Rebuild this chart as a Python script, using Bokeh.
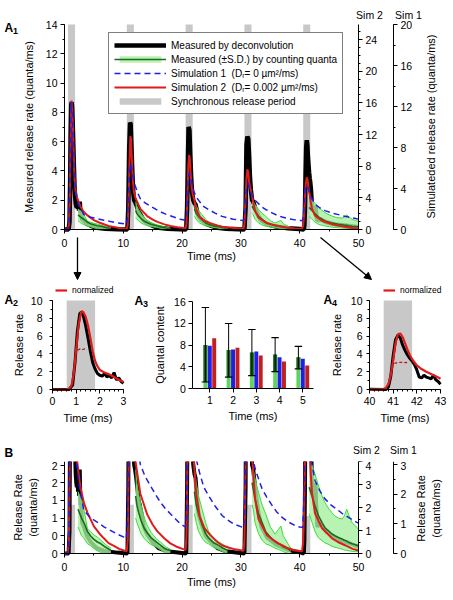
import math
from bokeh.plotting import figure
from bokeh.models import (Range1d, LinearAxis, SingleIntervalTicker, FixedTicker, Label,
                          Legend, LegendItem, Arrow, NormalHead, CustomJSTickFormatter)
from bokeh.layouts import column, row
from bokeh.embed import file_html
from bokeh.resources import INLINE

FONT = "Liberation Sans"

# ---------------- data ----------------
sync_start = [0.6, 10.6, 20.6, 30.6, 40.6]
sync_end = [1.8, 11.8, 21.8, 31.8, 41.8]
grey_b_top = [1.1, 1.1, 1.1, 1.1, 0.85]

# measured by deconvolution (quanta/ms)
black_t = [0, 0.7, 0.85, 0.95, 1.05, 1.15, 1.22, 1.3, 1.4, 1.5, 1.6, 1.7, 1.8, 1.9, 2.0, 2.1, 2.2, 2.3, 2.4, 2.5,
           2.6, 2.7, 2.8, 2.9, 3.0, 3.3, 3.8, 4.5, 5.5, 7.0, 9.0, 10.7,
           10.85, 11.0, 11.15, 11.25, 11.4, 11.55, 11.7, 11.85, 12.0, 12.2, 12.4, 12.6, 12.8, 13.1, 13.5, 14.0,
           15.0, 16.0, 17.5, 20.7,
           20.85, 21.0, 21.1, 21.25, 21.4, 21.55, 21.7, 21.9, 22.1, 22.3, 22.5, 22.8, 23.2, 24.0, 25.0, 26.0,
           27.5, 30.6,
           30.8, 30.95, 31.1, 31.25, 31.4, 31.55, 31.7, 31.9, 32.1, 32.4, 32.7, 33.0, 33.5, 34.5, 36.0, 38.0,
           40.0, 40.7,
           40.8, 40.9, 41.0, 41.1, 41.2, 41.3, 41.4, 41.5, 41.6, 41.7, 41.8, 41.9, 42.0, 42.1, 42.2, 42.3, 42.4,
           42.5, 42.6, 42.7, 42.8, 42.9, 43.0, 43.5, 44.5, 46.0, 48.0, 50.0]
black_v = [0, 0, 0.5, 3.0, 6.5, 8.5, 8.7, 8.3, 7.2, 5.8, 4.3, 3.0, 2.3, 1.8, 1.6, 1.5, 1.8, 1.4, 1.6, 1.3,
           1.9, 1.1, 1.3, 0.9, 0.7, 0.6, 0.4, 0.25, 0.12, 0.05, 0.02, 0,
           1.5, 5.5, 7.3, 7.2, 5.5, 3.8, 2.5, 2.0, 1.9, 1.7, 1.45, 1.2, 1.1, 0.9, 0.6, 0.45,
           0.25, 0.12, 0.05, 0,
           1.5, 5.0, 7.0, 6.8, 5.0, 3.5, 2.5, 2.0, 1.8, 1.7, 1.3, 0.9, 0.7, 0.4, 0.25, 0.12,
           0.05, 0,
           1.5, 5.8, 6.35, 6.2, 5.0, 3.5, 2.7, 2.0, 1.9, 1.5, 1.2, 0.9, 0.6, 0.35, 0.2, 0.08,
           0.03, 0,
           0.3, 1.5, 3.8, 5.6, 6.1, 5.8, 5.0, 4.4, 3.9, 3.5, 3.2, 2.8, 2.2, 1.4, 1.3, 1.6, 1.4,
           1.3, 1.2, 1.6, 1.1, 0.9, 0.6, 0.7, 0.5, 0.35, 0.25, 0.15]

# measured by counting quanta: mean and +-S.D. after each stimulus
green_t = [[2.3, 2.6, 2.9, 3.3, 3.9, 4.4, 5.0, 5.6, 6.2, 7.0, 7.9],
           [12.1, 12.3, 12.6, 13.0, 13.6, 14.0, 14.7, 15.7, 16.4, 17.2, 18.0],
           [22.1, 22.4, 22.8, 23.4, 24.0, 24.5, 25.3, 26.0, 27.0, 27.7],
           [31.9, 32.1, 32.4, 33.0, 33.6, 34.2, 35.0, 35.8, 36.4, 36.8, 37.2, 38.1, 38.5],
           [41.6, 42.1, 42.6, 43.2, 43.8, 44.3, 45.0, 45.5, 46.0, 46.6, 47.2, 47.6, 48.0, 48.4, 48.9, 49.5, 50.0]]
green_mean = [[1.0, 0.9, 0.8, 0.7, 0.5, 0.4, 0.32, 0.26, 0.22, 0.14, 0.07],
              [1.3, 1.1, 0.93, 0.75, 0.56, 0.48, 0.36, 0.25, 0.18, 0.1, 0.07],
              [1.4, 1.1, 0.9, 0.65, 0.45, 0.35, 0.25, 0.2, 0.12, 0.07],
              [1.6, 1.45, 1.23, 0.9, 0.7, 0.5, 0.37, 0.27, 0.22, 0.2, 0.15, 0.1, 0.05],
              [1.5, 1.3, 1.08, 0.85, 0.7, 0.58, 0.5, 0.44, 0.4, 0.36, 0.33, 0.3, 0.28, 0.25, 0.22, 0.2, 0.17]]
green_upper = [[1.4, 1.3, 1.23, 1.0, 0.56, 0.5, 0.42, 0.37, 0.3, 0.2, 0.12],
               [1.9, 1.6, 1.35, 1.1, 0.8, 0.65, 0.48, 0.32, 0.25, 0.15, 0.1],
               [1.9, 1.6, 1.3, 1.0, 0.7, 0.5, 0.36, 0.28, 0.2, 0.12],
               [2.1, 1.9, 1.7, 1.38, 1.1, 0.9, 0.6, 0.44, 0.55, 0.62, 0.4, 0.2, 0.12],
               [2.1, 2.0, 1.8, 1.53, 1.3, 1.15, 1.0, 0.92, 0.85, 0.8, 0.78, 0.85, 1.0, 0.85, 0.7, 0.62, 0.55]]
green_lower = [[0.6, 0.5, 0.4, 0.35, 0.22, 0.18, 0.11, 0.06, 0.02, 0.0, 0.0],
               [0.8, 0.7, 0.6, 0.45, 0.33, 0.28, 0.2, 0.14, 0.08, 0.0, 0.0],
               [0.9, 0.7, 0.5, 0.35, 0.25, 0.22, 0.14, 0.1, 0.04, 0.0],
               [1.1, 1.0, 0.7, 0.45, 0.3, 0.22, 0.18, 0.12, 0.09, 0.07, 0.04, 0.0, 0.0],
               [0.9, 0.7, 0.5, 0.35, 0.29, 0.24, 0.2, 0.16, 0.14, 0.12, 0.1, 0.08, 0.07, 0.06, 0.05, 0.04, 0.04]]

# Simulation 2 (Sim 2 axis units)
red_t = [0, 0.6, 0.75, 0.9, 1.0, 1.1, 1.2, 1.3, 1.45, 1.6, 1.75, 1.9, 2.15, 2.7, 3.3, 3.9, 5.0, 6.0, 6.7, 7.5,
         8.4, 9.3, 10.1, 10.6,
         10.75, 10.9, 11.05, 11.2, 11.3, 11.45, 11.6, 11.8, 12.07, 12.9, 14.06, 15.0, 15.8, 17.0, 18.0, 19.2,
         20.3, 20.6,
         20.75, 20.9, 21.05, 21.2, 21.3, 21.45, 21.6, 21.8, 22.0, 22.4, 23.0, 23.8, 24.8, 26.0, 26.8, 28.0,
         29.0, 30.45,
         30.6, 30.75, 30.95, 31.1, 31.25, 31.4, 31.6, 31.8, 32.1, 32.4, 33.0, 34.4, 35.4, 36.4, 37.8, 39.2, 40.4,
         40.6, 40.8, 41.0, 41.2, 41.35, 41.5, 41.7, 41.9, 42.1, 42.6, 43.8, 45.5, 46.5, 47.7, 49.0, 50.0]
red_v = [0, 0, 0.6, 4, 9, 14, 16.3, 15.6, 12.5, 8.5, 6, 4.8, 4.0, 2.9, 2.2, 1.78, 1.18, 0.85, 0.66, 0.45,
         0.33, 0.2, 0.13, 0.1,
         0.6, 3.5, 8.5, 11.8, 11.5, 9, 6.5, 4.8, 4.0, 2.6, 1.7, 1.25, 0.96, 0.65, 0.44, 0.28,
         0.18, 0.16,
         0.8, 4, 8, 9.4, 9.1, 7.2, 5.5, 4.4, 4.0, 2.6, 1.6, 1.1, 0.8, 0.5, 0.36, 0.25,
         0.18, 0.12,
         0.6, 3, 6.5, 7.6, 7.2, 6, 5.2, 4.6, 3.5, 2.4, 1.5, 0.81, 0.6, 0.44, 0.25, 0.13, 0.1,
         0.5, 2.5, 5.5, 6.6, 6.3, 5.3, 4.4, 3.4, 2.6, 1.75, 1.1, 0.66, 0.5, 0.36, 0.2, 0.13]

# Simulation 1 (Sim 1 axis units)
blue_t = [0, 0.6, 0.75, 0.9, 1.05, 1.2, 1.3, 1.45, 1.6, 1.8, 2.0, 2.4, 3.3, 4.4, 5.56, 6.7, 7.8, 9.0, 10.1, 10.5,
          10.7, 10.9, 11.05, 11.2, 11.35, 11.6, 12.0, 12.5, 12.9, 13.7, 14.6, 15.5, 16.3, 17.2, 18.0, 19.0,
          19.7, 20.6,
          20.75, 20.95, 21.1, 21.2, 21.4, 21.7, 22.0, 22.5, 23.0, 23.7, 24.5, 25.6, 26.8, 27.7, 28.7, 30.2, 30.5,
          30.65, 30.85, 31.0, 31.15, 31.35, 31.6, 31.9, 32.5, 33.6, 34.4, 35.3, 36.1, 37.0, 38.1, 39.2, 40.0, 40.5,
          40.65, 40.85, 41.0, 41.15, 41.35, 41.6, 41.9, 42.6, 43.4, 44.3, 45.4, 46.6, 47.4, 48.3, 49.0, 49.7, 50.0]
blue_v = [0, 0, 0.5, 4, 10, 12.4, 11.8, 9, 6.2, 4.3, 3.3, 2.4, 1.45, 1.2, 1.06, 0.9, 0.78, 0.65, 0.55, 0.5,
          1.0, 3.5, 5.5, 6.4, 6.2, 5.3, 4.3, 3.5, 3.0, 2.6, 2.29, 1.98, 1.73, 1.5, 1.34, 1.14,
          1.0, 0.89,
          1.4, 3.8, 5.2, 5.5, 5.2, 4.4, 3.7, 3.1, 2.7, 2.23, 1.95, 1.6, 1.28, 1.14, 1.0, 0.89, 0.88,
          1.5, 3.6, 4.3, 4.5, 4.3, 3.8, 3.3, 2.8, 2.18, 1.9, 1.62, 1.4, 1.22, 1.06, 0.94, 0.89, 0.88,
          1.4, 3.4, 4.1, 4.3, 4.1, 3.7, 3.2, 2.46, 2.12, 1.84, 1.62, 1.45, 1.32, 1.22, 1.13, 1.05, 1.03]

# A2 / A4 : normalized simulation 2 and raw simulation 2 (dashed)
a2_norm_t = [0, 0.6, 0.7, 0.8, 0.9, 1.0, 1.1, 1.2, 1.25, 1.3, 1.4, 1.5, 1.6, 1.7, 1.8, 1.9, 2.0, 2.2, 2.4, 2.6, 2.8, 3.0]
a2_norm_v = [0, 0, 0.1, 0.4, 1.8, 4.5, 7.2, 8.6, 8.8, 8.7, 8.2, 7.2, 5.8, 4.3, 3.2, 2.6, 2.2, 1.9, 1.7, 1.4, 1.1, 0.85]
a2_raw_t = [1.07, 1.15, 1.22, 1.3, 1.37, 1.45]
a2_raw_v = [4.4, 4.55, 4.45, 4.5, 4.6, 4.5]
a4_norm_t = [40, 40.6, 40.7, 40.8, 40.9, 41.0, 41.1, 41.2, 41.3, 41.4, 41.5, 41.6, 41.7, 41.8, 42.0, 42.2, 42.4, 42.6,
             42.8, 43.0]
a4_norm_v = [0, 0.05, 0.2, 0.6, 1.6, 3.3, 5.2, 6.2, 6.3, 5.9, 5.2, 4.5, 3.9, 3.4, 2.7, 2.3, 2.0, 1.75, 1.5, 1.2]
a4_raw_t = [41.05, 41.15, 41.25, 41.35, 41.45, 41.55, 41.65]
a4_raw_v = [2.95, 3.0, 3.05, 3.05, 3.0, 3.05, 3.0]

# A3 : quantal content per stimulus
stim = [1, 2, 3, 4, 5]
qc_mean = [8.0, 7.1, 6.6, 6.25, 5.75]
qc_low = [1.2, 2.1, 2.35, 3.1, 3.6]
qc_high = [14.9, 11.95, 10.85, 9.35, 7.75]
qc_sim1 = [7.85, 7.15, 6.8, 5.75, 5.45]
qc_sim2 = [9.25, 7.5, 6.05, 4.95, 4.25]

# axis extents
A1_YMAX, SIM2_A1_MAX, SIM1_A1_MAX = 14, 25.9, 20
B_YMAX, SIM2_B_MAX, SIM1_B_MAX = 2.08, 4.0, 3.1

# ---------------- styles / helpers ----------------
BLACK = "#000000"
GREEN_FILL = "#a6f0a0"
GREEN_EDGE = "#3ddc3a"
GREEN_DARK = "#1c6b1c"
BLUE = "#1f1fe6"
RED = "#e11b1b"
GREY = "#c8c8c8"


class Geo:
    """page-pixel geometry of a figure whose frame fills the whole figure"""

    def __init__(self, left, top, right, bottom, xa_px, xa_val, xppu, ya_px, ya_val, yppu):
        self.l, self.t, self.r, self.b = left, top, right, bottom
        self.xa_px, self.xa_val, self.xppu = xa_px, xa_val, xppu
        self.ya_px, self.ya_val, self.yppu = ya_px, ya_val, yppu

    def x(self, px):
        return self.xa_val + (px - self.xa_px) / self.xppu

    def y(self, py, ppu=None):
        return self.ya_val + (self.ya_px - py) / (ppu or self.yppu)

    def xrange(self):
        return Range1d(self.x(self.l), self.x(self.r))

    def yrange(self, ppu=None):
        return Range1d(self.y(self.b, ppu), self.y(self.t, ppu))


def new_fig(g):
    p = figure(frame_width=g.r - g.l, frame_height=g.b - g.t, x_range=g.xrange(), y_range=g.yrange(),
               output_backend="svg", toolbar_location=None, min_border=0)
    p.xgrid.visible = False
    p.ygrid.visible = False
    p.outline_line_color = None
    p.background_fill_color = "white"
    p.border_fill_color = "white"
    return p


def style_axis(ax, label=None, tick_fs="10.5px", lab_fs="11px", lab_standoff=6, tick_standoff=3, tick_out=4):
    ax.axis_line_color = BLACK
    ax.axis_line_width = 1
    ax.major_tick_line_color = BLACK
    ax.minor_tick_line_color = BLACK
    ax.major_tick_out = tick_out
    ax.major_tick_in = 0
    ax.minor_tick_out = 2
    ax.minor_tick_in = 0
    ax.major_label_text_font = FONT
    ax.major_label_text_font_size = tick_fs
    ax.major_label_text_color = BLACK
    ax.major_label_standoff = tick_standoff
    ax.axis_label_text_font = FONT
    ax.axis_label_text_font_size = lab_fs
    ax.axis_label_text_font_style = "normal"
    ax.axis_label_text_color = BLACK
    ax.axis_label_standoff = lab_standoff
    if label is not None:
        ax.axis_label = label


def text(p, g, px, py, s, size="10.5px", bold=False, align="left", angle=0.0):
    p.add_layout(Label(x=g.x(px), y=g.y(py), text=s, text_font=FONT, text_font_size=size,
                       text_font_style="bold" if bold else "normal", text_color=BLACK,
                       text_align=align, text_baseline="middle", angle=angle))


def panel_label(p, g, px, py, main, sub):
    text(p, g, px, py, main, size="12px", bold=True)
    if sub:
        text(p, g, px + 8.5, py + 3, sub, size="9px", bold=True)


def draw_traces(p, grey_tops, black_w):
    r_grey = p.quad(left=sync_start, right=sync_end, bottom=0, top=grey_tops,
                    fill_color=GREY, line_color=None)
    r_black = p.line(black_t, black_v, line_color=BLACK, line_width=black_w)
    bands, means = [], []
    for k in range(len(green_t)):
        bands.append(p.varea(x=green_t[k], y1=green_lower[k], y2=green_upper[k],
                             fill_color=GREEN_FILL, fill_alpha=0.8))
        p.line(green_t[k], green_upper[k], line_color=GREEN_EDGE, line_width=1)
        p.line(green_t[k], green_lower[k], line_color=GREEN_EDGE, line_width=1)
        means.append(p.line(green_t[k], green_mean[k], line_color=GREEN_DARK, line_width=1.6))
    r_red = p.line(red_t, red_v, line_color=RED, line_width=2, y_range_name="sim2")
    r_blue = p.line(blue_t, blue_v, line_color=BLUE, line_width=1.5, line_dash="6 4",
                    y_range_name="sim1")
    return r_grey, r_black, bands[0], means[0], r_red, r_blue


# ---------------- A1 ----------------
gA1 = Geo(0, 0, 450, 283, 64, 0, 294 / 50, 229, 0, 205 / A1_YMAX)
p1 = new_fig(gA1)
p1.extra_y_ranges = {"sim2": gA1.yrange(205 / SIM2_A1_MAX), "sim1": gA1.yrange(205 / SIM1_A1_MAX)}
xa = p1.xaxis[0]
xa.ticker = SingleIntervalTicker(interval=10, num_minor_ticks=2)
xa.fixed_location = 0
xa.bounds = (0, 50)
style_axis(xa, "Time (ms)", lab_standoff=0, tick_standoff=5)
ya = p1.yaxis[0]
ya.ticker = SingleIntervalTicker(interval=2, num_minor_ticks=2)
ya.fixed_location = 0
ya.bounds = (0, A1_YMAX)
style_axis(ya, "Measured release rate (quanta/ms)", lab_standoff=8)
ax_s2 = LinearAxis(y_range_name="sim2", ticker=SingleIntervalTicker(interval=4, num_minor_ticks=4),
                   fixed_location=50, bounds=(0, SIM2_A1_MAX))
style_axis(ax_s2)
p1.add_layout(ax_s2, "right")
ax_s1 = LinearAxis(y_range_name="sim1", ticker=SingleIntervalTicker(interval=4, num_minor_ticks=2),
                   fixed_location=gA1.x(393), bounds=(0, SIM1_A1_MAX))
style_axis(ax_s1)
p1.add_layout(ax_s1, "right")

rg, rb, rgb, rgm, rr, rbl = draw_traces(p1, [A1_YMAX] * len(sync_start), 4.5)

leg = Legend(items=[
    LegendItem(label="Measured by deconvolution", renderers=[rb]),
    LegendItem(label="Measured (\u00b1S.D.) by counting quanta", renderers=[rgb, rgm]),
    LegendItem(label="Simulation 1  (D\u1d63= 0 \u00b5m\u00b2/ms)", renderers=[rbl]),
    LegendItem(label="Simulation 2  (D\u1d63= 0.002 \u00b5m\u00b2/ms)", renderers=[rr]),
    LegendItem(label="Synchronous release period", renderers=[rg]),
], location=(108, 283 - 114))
leg.label_text_font = FONT
leg.label_text_font_size = "10px"
leg.label_text_color = BLACK
leg.glyph_width = 52
leg.glyph_height = 8
leg.label_height = 14
leg.label_standoff = 5
leg.spacing = 0
leg.padding = 5
leg.margin = 0
leg.border_line_color = BLACK
leg.border_line_width = 1
leg.background_fill_alpha = 1
p1.add_layout(leg)

panel_label(p1, gA1, 4, 27, "A", "1")
text(p1, gA1, 369, 14, "Sim 2", align="center")
text(p1, gA1, 408, 14, "Sim 1", align="center")
text(p1, gA1, 430, 126, "Simulateded release rate (quanta/ms)", size="11px", align="center",
     angle=math.pi / 2)

arrow_px = [((77, 237), (77, 279)), ((320, 237), (371, 279))]
for (sx, sy), (ex, ey) in arrow_px:
    p1.add_layout(Arrow(end=NormalHead(size=7, fill_color=BLACK, line_color=BLACK),
                        x_start=gA1.x(sx), y_start=gA1.y(sy), x_end=gA1.x(ex), y_end=gA1.y(ey),
                        line_color=BLACK, line_width=1.3))


# ---------------- A2 / A4 ----------------
def zoom_panel(g, t0, t1, norm_t, norm_v, raw_t, raw_v, sync_i, lab_px, lab_sub, leg_px,
               ylab_standoff, ytick_standoff):
    p = new_fig(g)
    xa = p.xaxis[0]
    xa.ticker = SingleIntervalTicker(interval=1, num_minor_ticks=5)
    xa.fixed_location = 0
    xa.bounds = (t0, t1)
    style_axis(xa, "Time (ms)", lab_standoff=4, tick_standoff=3)
    ya = p.yaxis[0]
    ya.ticker = SingleIntervalTicker(interval=2, num_minor_ticks=2)
    ya.fixed_location = t0
    ya.bounds = (0, 10)
    style_axis(ya, "Release rate", lab_standoff=ylab_standoff, tick_standoff=ytick_standoff, tick_out=3)
    p.quad(left=[sync_start[sync_i]], right=[sync_end[sync_i]], bottom=0, top=10,
           fill_color=GREY, line_color=None)
    idx = [i for i, t in enumerate(black_t) if t0 <= t <= t1]
    p.line([black_t[i] for i in idx], [black_v[i] for i in idx], line_color=BLACK, line_width=3)
    rn = p.line(norm_t, norm_v, line_color=RED, line_width=2.2)
    p.line(raw_t, raw_v, line_color="#b02020", line_width=1.3, line_dash="3 2")
    lg = Legend(items=[LegendItem(label="normalized", renderers=[rn])],
                location=(leg_px - g.l, g.b - 295))
    lg.label_text_font = FONT
    lg.label_text_font_size = "8.5px"
    lg.label_text_color = BLACK
    lg.glyph_width = 12
    lg.glyph_height = 6
    lg.label_height = 10
    lg.label_standoff = 5
    lg.padding = 0
    lg.margin = 0
    lg.border_line_color = None
    lg.background_fill_alpha = 0
    p.add_layout(lg)
    panel_label(p, g, lab_px, 299, "A", lab_sub)
    return p


gA2 = Geo(0, 283, 132, 461, 52, 0, 71 / 3, 389, 0, 8.9)
pA2 = zoom_panel(gA2, 0, 3, a2_norm_t, a2_norm_v, a2_raw_t, a2_raw_v, 0, 4, "2", 55, 3, 7)
panel_label(pA2, gA2, 4, 452, "B", "")

gA4 = Geo(322, 283, 450, 461, 369, 40, 71 / 3, 389, 0, 8.9)
pA4 = zoom_panel(gA4, 40, 43, a4_norm_t, a4_norm_v, a4_raw_t, a4_raw_v, 4, 323, "4", 383, 5, 4)
text(pA4, gA4, 366, 449, "Sim 2", align="center")
text(pA4, gA4, 403, 449, "Sim 1", align="center")

# ---------------- A3 ----------------
gA3 = Geo(132, 283, 322, 461, 209.3, 1, 23.25, 388, 0, 87 / 16)
pA3 = new_fig(gA3)
xa = pA3.xaxis[0]
xa.ticker = FixedTicker(ticks=stim, minor_ticks=[])
xa.fixed_location = 0
xa.bounds = (gA3.x(192.3), gA3.x(313))
style_axis(xa, "Time (ms)", lab_standoff=3, tick_standoff=3)
ya = pA3.yaxis[0]
ya.ticker = SingleIntervalTicker(interval=4, num_minor_ticks=0)
ya.fixed_location = gA3.x(192.3)
ya.bounds = (0, 16)
style_axis(ya, "Quantal content", lab_standoff=5, tick_standoff=3)
bw = 0.17
gx = [s - 0.19 for s in stim]
rx = [s + 0.19 for s in stim]
pA3.vbar(x=gx, top=qc_mean, bottom=0, width=bw, fill_color="#5fd45a", line_color=None)
pA3.vbar(x=gx, top=qc_mean, bottom=qc_low, width=bw, fill_color=GREEN_DARK, line_color=None)
pA3.vbar(x=stim, top=qc_sim1, bottom=0, width=bw, fill_color=BLUE, line_color=None)
pA3.vbar(x=rx, top=qc_sim2, bottom=0, width=bw, fill_color="#c41f1f", line_color=None)
pA3.segment(x0=gx, y0=qc_low, x1=gx, y1=qc_high, line_color=BLACK, line_width=1)
cap = 0.16
pA3.segment(x0=[x - cap for x in gx], y0=qc_high, x1=[x + cap for x in gx], y1=qc_high,
            line_color=BLACK, line_width=1.2)
pA3.segment(x0=[x - cap for x in gx], y0=qc_low, x1=[x + cap for x in gx], y1=qc_low,
            line_color=BLACK, line_width=1.2)
panel_label(pA3, gA3, 134, 300, "A", "3")

# ---------------- B ----------------
gB = Geo(0, 461, 450, 598, 64, 0, 294 / 50, 553, 0, 92 / B_YMAX)
pB = new_fig(gB)
pB.extra_y_ranges = {"sim2": gB.yrange(92 / SIM2_B_MAX), "sim1": gB.yrange(92 / SIM1_B_MAX)}
xa = pB.xaxis[0]
xa.ticker = SingleIntervalTicker(interval=10, num_minor_ticks=2)
xa.fixed_location = 0
xa.bounds = (0, 50)
style_axis(xa, "Time (ms)", lab_standoff=2, tick_standoff=5)
ya = pB.yaxis[0]
ya.ticker = SingleIntervalTicker(interval=0.4, num_minor_ticks=2)
ya.formatter = CustomJSTickFormatter(code="return Math.round(tick).toFixed(0);")
ya.fixed_location = 0
ya.bounds = (0, B_YMAX)
style_axis(ya, "Release Rate\n(quanta/ms)", lab_standoff=10)
bx2 = LinearAxis(y_range_name="sim2", ticker=SingleIntervalTicker(interval=1, num_minor_ticks=2),
                 fixed_location=50, bounds=(0, SIM2_B_MAX))
style_axis(bx2)
pB.add_layout(bx2, "right")
bx1 = LinearAxis(y_range_name="sim1", ticker=SingleIntervalTicker(interval=1, num_minor_ticks=2),
                 fixed_location=gB.x(393), bounds=(0, SIM1_B_MAX))
style_axis(bx1)
pB.add_layout(bx1, "right")
draw_traces(pB, grey_b_top, 4)
text(pB, gB, 428, 508, "Release Rate\n(quanta/ms)", size="11px", align="center", angle=math.pi / 2)

layout = column(p1, row(pA2, pA3, pA4, spacing=0), pB, spacing=0)
open("out.html", "w").write(file_html(layout, INLINE))
